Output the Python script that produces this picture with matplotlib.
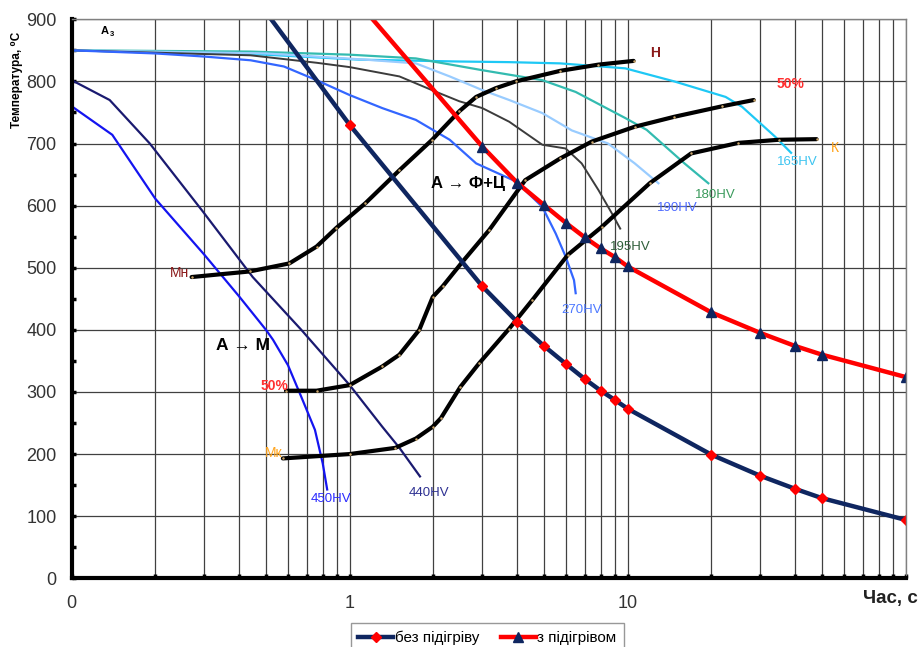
import matplotlib
matplotlib.use("Agg")
import matplotlib.pyplot as plt
from matplotlib.ticker import FixedLocator, NullFormatter, MultipleLocator

plt.rcParams['font.family'] = ['Liberation Sans', 'DejaVu Sans']

# cooling curves (time, s ; temperature, C)
t_450 = [0.1, 0.14, 0.2, 0.3, 0.4, 0.5, 0.53, 0.6, 0.67, 0.75, 0.8, 0.83]
T_450 = [760, 714, 611, 521, 454, 400, 384, 343, 292, 239, 185, 143]
t_440 = [0.1, 0.137, 0.191, 0.297, 0.448, 0.67, 1.0, 1.31, 1.51, 1.79]
T_440 = [802, 770, 700, 590, 485, 400, 311, 244, 210, 164]
t_270 = [0.1, 0.2, 0.3, 0.44, 0.58, 0.76, 1.0, 1.31, 1.73, 2.29, 2.85, 3.96, 4.93, 5.51, 5.98, 6.41, 6.5]
T_270 = [850, 845, 840, 834, 824, 802, 778, 757, 738, 706, 668, 639, 598, 555, 518, 480, 459]
t_195 = [0.1, 0.44, 0.76, 1.0, 1.51, 2.0, 2.48, 3.0, 3.75, 4.93, 5.98, 6.83, 7.85, 8.76, 9.4]
T_195 = [850, 842, 830, 823, 808, 785, 768, 757, 735, 698, 692, 668, 625, 588, 563]
t_190 = [0.1, 0.5, 1.14, 1.73, 2.29, 3.0, 3.75, 4.93, 6.3, 8.5, 10.6, 12.9]
T_190 = [850, 845, 835, 829, 808, 786, 770, 749, 721, 700, 668, 636]
t_180 = [0.1, 0.44, 1.0, 1.73, 3.0, 4.93, 6.5, 9.8, 11.7, 16, 19.5]
T_180 = [850, 848, 843, 837, 818, 802, 783, 741, 722, 668, 636]
t_165 = [0.1, 0.5, 1.08, 2.48, 3.75, 5.72, 9.8, 14.7, 22.5, 25.8, 33.9, 38.7]
T_165 = [850, 843, 835, 832, 831, 829, 821, 800, 775, 759, 711, 685]

# transformation lines
t_start = [0.27, 0.437, 0.607, 0.76, 0.895, 1.14, 1.51, 1.98, 2.48, 2.85, 3.35, 3.96, 5.72, 7.85, 10.5]
T_start = [485, 494, 507, 534, 564, 604, 657, 706, 752, 775, 789, 800, 817, 827, 833]
t_half = [0.59, 0.76, 1.0, 1.31, 1.51, 1.78, 1.99, 2.16, 2.55, 3.18, 4.28, 5.72, 7.42, 10.6, 14.7, 21.9, 28.4]
T_half = [302, 302, 311, 341, 360, 400, 453, 470, 510, 561, 641, 676, 703, 727, 743, 760, 770]
t_end = [0.575, 1.0, 1.46, 1.73, 1.99, 2.13, 2.5, 2.92, 3.75, 4.54, 6.1, 8.08, 12, 16.9, 25, 34.9, 47.8]
T_end = [193, 200, 210, 225, 244, 258, 308, 346, 402, 448, 521, 566, 636, 684, 701, 706, 707]

# weld cooling, without / with preheating
t_cold = [0.48, 1, 3, 4, 5, 6, 7, 8, 9, 10, 20, 30, 40, 50, 100]
T_cold = [922, 730, 470, 413, 374, 345, 321, 302, 287, 273, 199, 165, 144, 129, 94]
t_hot = [1.0, 3, 4, 5, 6, 7, 8, 9, 10, 20, 30, 40, 50, 100]
T_hot = [943, 695, 637, 601, 572, 549, 531, 517, 502, 428, 395, 374, 360, 324]

hv_labels = ["450HV", "440HV", "270HV", "195HV", "190HV", "180HV", "165HV"]
hv_pos = [(0.858, 128), (1.935, 138), (6.8, 432), (10.25, 534), (15.07, 596), (20.7, 617), (40.6, 671)]
hv_colors = ["#2a2aff", "#2e3192", "#4d79ff", "#2f5f3a", "#4f6bff", "#3a9a5c", "#3dc4f0"]

fig = plt.figure(figsize=(9.21, 6.47), dpi=100)
ax = fig.add_axes([0.0778, 0.1062, 0.9056, 0.864])

ax.plot(t_165, T_165, color="#1ec8f5", lw=1.6)
ax.plot(t_180, T_180, color="#33bbb0", lw=1.6)
ax.plot(t_190, T_190, color="#99ccff", lw=1.6)
ax.plot(t_195, T_195, color="#3c3c3c", lw=1.4)
ax.plot(t_270, T_270, color="#3366ff", lw=1.6)
ax.plot(t_440, T_440, color="#1a1a70", lw=1.6)
ax.plot(t_450, T_450, color="#1414f0", lw=1.6)

for tt, TT in [(t_start, T_start), (t_half, T_half), (t_end, T_end)]:
    ax.plot(tt, TT, color="black", lw=3, solid_capstyle="round", solid_joinstyle="round",
            marker="o", ms=1.8, mfc="#c9a46a", mec="none")

ax.plot(t_cold, T_cold, color="#0f2660", lw=3.2, marker="D", ms=5.5,
        mfc="red", mec="red", label="без підігріву")
ax.plot(t_hot, T_hot, color="red", lw=3.2, marker="^", ms=6.5,
        mfc="#0f2660", mec="#0f2660", label="з підігрівом")

ax.set_xscale("log")
ax.set_xlim(0.1, 100)
ax.set_ylim(0, 900)
ax.xaxis.set_major_locator(FixedLocator([0.1, 1, 10, 100]))
ax.set_xticklabels(["0", "1", "10", ""])
minor_x = [m * d for d in [0.1, 1, 10] for m in range(2, 10)]
ax.xaxis.set_minor_locator(FixedLocator(minor_x))
ax.xaxis.set_minor_formatter(NullFormatter())
ax.yaxis.set_major_locator(MultipleLocator(100))
ax.yaxis.set_minor_locator(MultipleLocator(50))

ax.grid(which="major", color="#404040", lw=0.9)
ax.grid(which="minor", axis="x", color="#404040", lw=0.9)
ax.set_axisbelow(True)

for s in ["left", "bottom"]:
    ax.spines[s].set_linewidth(3)
    ax.spines[s].set_color("black")
for s in ["top", "right"]:
    ax.spines[s].set_linewidth(1)
    ax.spines[s].set_color("#808080")

ax.tick_params(which="both", direction="in", length=3, width=2.5, color="black",
               labelsize=13, labelcolor="#333333")
ax.tick_params(axis="y", pad=11)
ax.tick_params(axis="x", pad=12)

# annotations
ax.text(0.1316, 881, "A", fontsize=8, fontweight="bold", ha="center", va="center")
ax.text(0.1401, 876, "3", fontsize=5.5, fontweight="bold", ha="center", va="center")
ax.text(2.67, 636, "А → Ф+Ц", fontsize=12, fontweight="bold", ha="center", va="center")
ax.text(0.412, 374, "А → М", fontsize=12.5, fontweight="bold", ha="center", va="center")
ax.text(0.245, 491, "Мн", fontsize=10, color="#8b1a1a", ha="center", va="center")
ax.text(12.53, 845, "Н", fontsize=10, fontweight="bold", color="#8b1a1a", ha="center", va="center")
ax.text(0.537, 310, "50%", fontsize=10, fontweight="bold", color="#ff3030", ha="center", va="center")
ax.text(38.5, 796, "50%", fontsize=10, fontweight="bold", color="#ff3030", ha="center", va="center")
ax.text(0.5325, 201, "Мк", fontsize=10, color="#ffa31a", ha="center", va="center")
ax.text(55.8, 692, "К", fontsize=10, color="#ffa31a", ha="center", va="center")
for lab, (x, y), c in zip(hv_labels, hv_pos, hv_colors):
    ax.text(x, y, lab, fontsize=9.5, color=c, ha="center", va="center")

fig.text(17 / 921, 1 - 80 / 647, "Температура, ⁰С", rotation=90, fontsize=8.5,
         fontweight="bold", ha="center", va="center")
fig.text(890 / 921, 1 - 598 / 647, "Час, с", fontsize=13.5, fontweight="bold",
         color="#222222", ha="center", va="center")

leg = fig.legend(loc="upper left", bbox_to_anchor=(350.7 / 921, 1 - 623.3 / 647),
                 ncol=2, fontsize=11, frameon=True, fancybox=False,
                 edgecolor="#7f7f7f", handlelength=2.3, handletextpad=0.1,
                 columnspacing=1.4, borderpad=0.5, borderaxespad=0)
leg.get_frame().set_linewidth(1)

fig.savefig("out.png", dpi=100)
